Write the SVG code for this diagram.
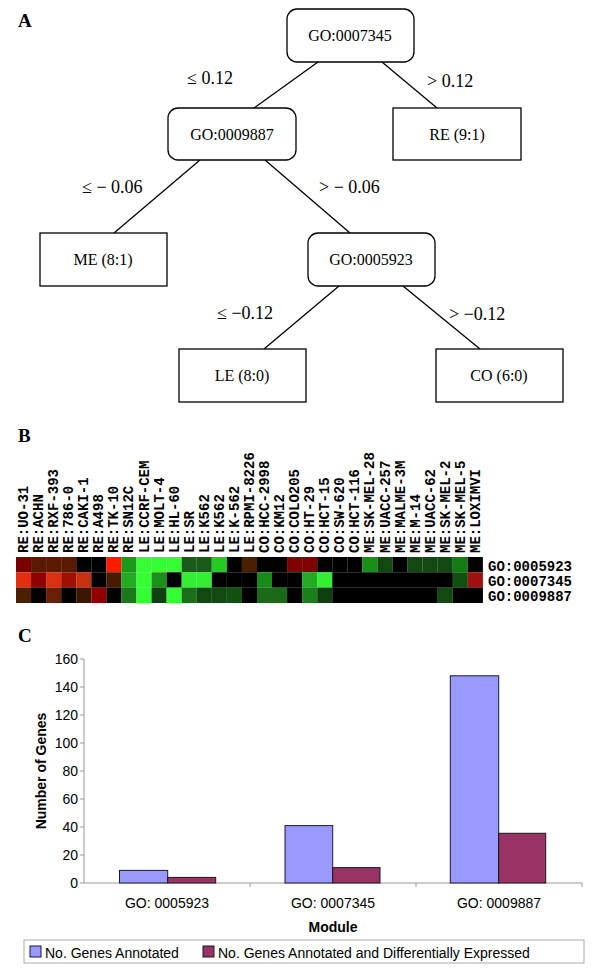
<svg xmlns="http://www.w3.org/2000/svg" width="600" height="972" viewBox="0 0 600 972">
<style>
.node{fill:#fff;stroke:#000;stroke-width:1.3}
.nt{font-family:"Liberation Serif",serif;font-size:16px;text-anchor:middle}
.el{font-family:"Liberation Serif",serif;font-size:18px}
.pl{font-family:"Liberation Serif",serif;font-size:19px;font-weight:bold}
.hl{font-family:"Liberation Mono",monospace;font-size:14px;font-weight:bold}
.ax{font-family:"Liberation Sans",sans-serif;font-size:14px}
.conn line{stroke:#000;stroke-width:1.3}
.b1{fill:#9999ff;stroke:#1a1a33;stroke-width:1}
.b2{fill:#993366;stroke:#1a1a1a;stroke-width:1}
</style>
<rect width="600" height="972" fill="#fff"/>
<text class="pl" x="18" y="27">A</text>
<g class="conn" id="connectors">
<line x1="318" y1="62" x2="254" y2="108"/>
<line x1="382" y1="62" x2="437" y2="108"/>
<line x1="200" y1="160" x2="114" y2="233"/>
<line x1="265" y1="160" x2="350" y2="233"/>
<line x1="339" y1="286" x2="264" y2="349"/>
<line x1="403" y1="286" x2="480" y2="349"/>
<text class="el" x="187" y="84">≤ 0.12</text>
<text class="el" x="427" y="87">&gt; 0.12</text>
<text class="el" x="82" y="193">≤ − 0.06</text>
<text class="el" x="319" y="193">&gt; − 0.06</text>
<text class="el" x="217" y="319">≤ −0.12</text>
<text class="el" x="449" y="320">&gt; −0.12</text>
</g>
<g id="n1"><rect class="node" x="287" y="9" width="127" height="53" rx="10"/><text class="nt" x="350" y="41">GO:0007345</text></g>
<g id="n2"><rect class="node" x="168" y="108" width="128" height="52" rx="10"/><text class="nt" x="232" y="140">GO:0009887</text></g>
<g id="n3"><rect class="node" x="393" y="108" width="128" height="52"/><text class="nt" x="457" y="140">RE (9:1)</text></g>
<g id="n4"><rect class="node" x="40" y="233" width="127" height="53"/><text class="nt" x="103" y="265">ME (8:1)</text></g>
<g id="n5"><rect class="node" x="308" y="233" width="127" height="53" rx="10"/><text class="nt" x="371" y="265">GO:0005923</text></g>
<g id="n6"><rect class="node" x="179" y="349" width="127" height="53"/><text class="nt" x="242" y="381">LE (8:0)</text></g>
<g id="n7"><rect class="node" x="436" y="349" width="127" height="53"/><text class="nt" x="499" y="381">CO (6:0)</text></g>

<text class="pl" x="18" y="442">B</text>
<g id="hm">
<g transform="translate(16,557)">
<rect x="0" y="0" width="15.1" height="15.4" fill="#7a0000"/><rect x="15.06" y="0" width="15.1" height="15.4" fill="#5a1a00"/><rect x="30.12" y="0" width="15.1" height="15.4" fill="#5a1a00"/><rect x="45.18" y="0" width="15.1" height="15.4" fill="#5a1a00"/><rect x="60.24" y="0" width="15.1" height="15.4" fill="#000"/><rect x="75.3" y="0" width="15.1" height="15.4" fill="#000"/><rect x="90.36" y="0" width="15.1" height="15.4" fill="#ff1a00"/><rect x="105.42" y="0" width="15.1" height="15.4" fill="#1a9a1a"/><rect x="120.48" y="0" width="15.1" height="15.4" fill="#33ff33"/><rect x="135.54" y="0" width="15.1" height="15.4" fill="#33ff33"/><rect x="150.6" y="0" width="15.1" height="15.4" fill="#33ff33"/><rect x="165.66" y="0" width="15.1" height="15.4" fill="#1a5a1a"/><rect x="180.72" y="0" width="15.1" height="15.4" fill="#1a5a1a"/><rect x="195.78" y="0" width="15.1" height="15.4" fill="#22cc22"/><rect x="210.84" y="0" width="15.1" height="15.4" fill="#000"/><rect x="225.9" y="0" width="15.1" height="15.4" fill="#4a2000"/><rect x="240.96" y="0" width="15.1" height="15.4" fill="#000"/><rect x="256.02" y="0" width="15.1" height="15.4" fill="#000"/><rect x="271.08" y="0" width="15.1" height="15.4" fill="#800000"/><rect x="286.14" y="0" width="15.1" height="15.4" fill="#800000"/><rect x="301.2" y="0" width="15.1" height="15.4" fill="#000"/><rect x="316.26" y="0" width="15.1" height="15.4" fill="#000"/><rect x="331.32" y="0" width="15.1" height="15.4" fill="#000"/><rect x="346.38" y="0" width="15.1" height="15.4" fill="#189018"/><rect x="361.44" y="0" width="15.1" height="15.4" fill="#104a10"/><rect x="376.5" y="0" width="15.1" height="15.4" fill="#000"/><rect x="391.56" y="0" width="15.1" height="15.4" fill="#104a10"/><rect x="406.62" y="0" width="15.1" height="15.4" fill="#104a10"/><rect x="421.68" y="0" width="15.1" height="15.4" fill="#104a10"/><rect x="436.74" y="0" width="15.1" height="15.4" fill="#147a14"/><rect x="451.8" y="0" width="15.1" height="15.4" fill="#000"/>
</g>
<g transform="translate(16,572.3)">
<rect x="0" y="0" width="15.1" height="15.4" fill="#e03010"/><rect x="15.06" y="0" width="15.1" height="15.4" fill="#900000"/><rect x="30.12" y="0" width="15.1" height="15.4" fill="#d83010"/><rect x="45.18" y="0" width="15.1" height="15.4" fill="#a01000"/><rect x="60.24" y="0" width="15.1" height="15.4" fill="#c83010"/><rect x="75.3" y="0" width="15.1" height="15.4" fill="#000"/><rect x="90.36" y="0" width="15.1" height="15.4" fill="#4a1a00"/><rect x="105.42" y="0" width="15.1" height="15.4" fill="#22aa22"/><rect x="120.48" y="0" width="15.1" height="15.4" fill="#33ff33"/><rect x="135.54" y="0" width="15.1" height="15.4" fill="#1a901a"/><rect x="150.6" y="0" width="15.1" height="15.4" fill="#000"/><rect x="165.66" y="0" width="15.1" height="15.4" fill="#33ee33"/><rect x="180.72" y="0" width="15.1" height="15.4" fill="#33ee33"/><rect x="195.78" y="0" width="15.1" height="15.4" fill="#000"/><rect x="210.84" y="0" width="15.1" height="15.4" fill="#000"/><rect x="225.9" y="0" width="15.1" height="15.4" fill="#000"/><rect x="240.96" y="0" width="15.1" height="15.4" fill="#1a8a1a"/><rect x="256.02" y="0" width="15.1" height="15.4" fill="#000"/><rect x="271.08" y="0" width="15.1" height="15.4" fill="#000"/><rect x="286.14" y="0" width="15.1" height="15.4" fill="#22aa22"/><rect x="301.2" y="0" width="15.1" height="15.4" fill="#33ee33"/><rect x="316.26" y="0" width="120.6" height="15.4" fill="#000"/><rect x="436.74" y="0" width="15.1" height="15.4" fill="#105010"/><rect x="451.8" y="0" width="15.1" height="15.4" fill="#a01010"/>
</g>
<g transform="translate(16,587.6)">
<rect x="0" y="0" width="15.1" height="15.4" fill="#4a2000"/><rect x="15.06" y="0" width="15.1" height="15.4" fill="#000"/><rect x="30.12" y="0" width="15.1" height="15.4" fill="#6a2000"/><rect x="45.18" y="0" width="15.1" height="15.4" fill="#000"/><rect x="60.24" y="0" width="15.1" height="15.4" fill="#3a1500"/><rect x="75.3" y="0" width="15.1" height="15.4" fill="#900000"/><rect x="90.36" y="0" width="15.1" height="15.4" fill="#000"/><rect x="105.42" y="0" width="15.1" height="15.4" fill="#1a7a1a"/><rect x="120.48" y="0" width="15.1" height="15.4" fill="#33ff33"/><rect x="135.54" y="0" width="15.1" height="15.4" fill="#104010"/><rect x="150.6" y="0" width="15.1" height="15.4" fill="#33ff33"/><rect x="165.66" y="0" width="15.1" height="15.4" fill="#1a701a"/><rect x="180.72" y="0" width="15.1" height="15.4" fill="#104a10"/><rect x="195.78" y="0" width="15.1" height="15.4" fill="#104a10"/><rect x="210.84" y="0" width="15.1" height="15.4" fill="#105010"/><rect x="225.9" y="0" width="15.1" height="15.4" fill="#000"/><rect x="240.96" y="0" width="15.1" height="15.4" fill="#1a6a1a"/><rect x="256.02" y="0" width="15.1" height="15.4" fill="#1a6a1a"/><rect x="271.08" y="0" width="15.1" height="15.4" fill="#000"/><rect x="286.14" y="0" width="15.1" height="15.4" fill="#1a801a"/><rect x="301.2" y="0" width="15.1" height="15.4" fill="#104010"/><rect x="316.26" y="0" width="105.5" height="15.4" fill="#000"/><rect x="421.68" y="0" width="15.1" height="15.4" fill="#104a10"/><rect x="436.74" y="0" width="30.2" height="15.4" fill="#000"/>
</g>
<text class="hl" x="488" y="571">GO:0005923</text>
<text class="hl" x="488" y="586">GO:0007345</text>
<text class="hl" x="488" y="601">GO:0009887</text>
<g class="hl">
<text transform="translate(28,553) rotate(-90)">RE:UO-31</text>
<text transform="translate(43.1,553) rotate(-90)">RE:ACHN</text>
<text transform="translate(58.1,553) rotate(-90)">RE:RXF-393</text>
<text transform="translate(73.2,553) rotate(-90)">RE:786-0</text>
<text transform="translate(88.3,553) rotate(-90)">RE:CAKI-1</text>
<text transform="translate(103.3,553) rotate(-90)">RE:A498</text>
<text transform="translate(118.4,553) rotate(-90)">RE:TK-10</text>
<text transform="translate(133.4,553) rotate(-90)">RE:SN12C</text>
<text transform="translate(148.5,553) rotate(-90)">LE:CCRF-CEM</text>
<text transform="translate(163.6,553) rotate(-90)">LE:MOLT-4</text>
<text transform="translate(178.6,553) rotate(-90)">LE:HL-60</text>
<text transform="translate(193.7,553) rotate(-90)">LE:SR</text>
<text transform="translate(208.8,553) rotate(-90)">LE:K562</text>
<text transform="translate(223.8,553) rotate(-90)">LE:K562</text>
<text transform="translate(238.9,553) rotate(-90)">LE:K-562</text>
<text transform="translate(253.9,553) rotate(-90)">LE:RPMI-8226</text>
<text transform="translate(269,553) rotate(-90)">CO:HCC-2998</text>
<text transform="translate(284.1,553) rotate(-90)">CO:KM12</text>
<text transform="translate(299.1,553) rotate(-90)">CO:COLO205</text>
<text transform="translate(314.2,553) rotate(-90)">CO:HT-29</text>
<text transform="translate(329.3,553) rotate(-90)">CO:HCT-15</text>
<text transform="translate(344.3,553) rotate(-90)">CO:SW-620</text>
<text transform="translate(359.4,553) rotate(-90)">CO:HCT-116</text>
<text transform="translate(374.4,553) rotate(-90)">ME:SK-MEL-28</text>
<text transform="translate(389.5,553) rotate(-90)">ME:UACC-257</text>
<text transform="translate(404.6,553) rotate(-90)">ME:MALME-3M</text>
<text transform="translate(419.6,553) rotate(-90)">ME:M-14</text>
<text transform="translate(434.7,553) rotate(-90)">ME:UACC-62</text>
<text transform="translate(449.8,553) rotate(-90)">ME:SK-MEL-2</text>
<text transform="translate(464.8,553) rotate(-90)">ME:SK-MEL-5</text>
<text transform="translate(479.9,553) rotate(-90)">ME:LOXIMVI</text>
</g>
</g>

<text class="pl" x="18" y="642">C</text>
<g id="chart">
<g stroke="#999" stroke-width="1" fill="none">
<line x1="84" y1="659" x2="84" y2="883"/>
<line x1="84" y1="883" x2="582" y2="883"/>
<line x1="80" y1="659" x2="84" y2="659"/><line x1="80" y1="687" x2="84" y2="687"/><line x1="80" y1="715" x2="84" y2="715"/><line x1="80" y1="743" x2="84" y2="743"/><line x1="80" y1="771" x2="84" y2="771"/><line x1="80" y1="799" x2="84" y2="799"/><line x1="80" y1="827" x2="84" y2="827"/><line x1="80" y1="855" x2="84" y2="855"/><line x1="80" y1="883" x2="84" y2="883"/>
<line x1="250" y1="883" x2="250" y2="887"/><line x1="416" y1="883" x2="416" y2="887"/><line x1="582" y1="883" x2="582" y2="887"/>
</g>
<g class="ax" text-anchor="end">
<text x="78" y="664">160</text><text x="78" y="692">140</text><text x="78" y="720">120</text><text x="78" y="748">100</text><text x="78" y="776">80</text><text x="78" y="804">60</text><text x="78" y="832">40</text><text x="78" y="860">20</text><text x="78" y="888">0</text>
</g>
<rect class="b1" x="119.5" y="870.4" width="48.2" height="12.6"/>
<rect class="b2" x="167.7" y="877.4" width="48" height="5.6"/>
<rect class="b1" x="285" y="825.6" width="47.7" height="57.4"/>
<rect class="b2" x="332.7" y="867.6" width="47.3" height="15.4"/>
<rect class="b1" x="450.3" y="675.8" width="48.4" height="207.2"/>
<rect class="b2" x="498.7" y="833.3" width="47" height="49.7"/>
<g class="ax" text-anchor="middle" font-size="12.5">
<text x="167" y="908">GO: 0005923</text><text x="333" y="908">GO: 0007345</text><text x="499" y="908">GO: 0009887</text>
</g>
<text class="ax" x="333" y="932" text-anchor="middle" font-weight="bold" font-size="15">Module</text>
<text class="ax" transform="translate(46,771) rotate(-90)" text-anchor="middle" font-weight="bold" font-size="16">Number of Genes</text>
<rect x="24" y="940" width="560" height="23" fill="#fff" stroke="#aaa"/>
<rect class="b1" x="30" y="946" width="11" height="11"/>
<text class="ax" x="45" y="957.5" font-size="16">No. Genes Annotated</text>
<rect class="b2" x="203" y="946" width="11" height="11"/>
<text class="ax" x="218" y="957.5" font-size="16">No. Genes Annotated and Differentially Expressed</text>
</g>
</svg>
